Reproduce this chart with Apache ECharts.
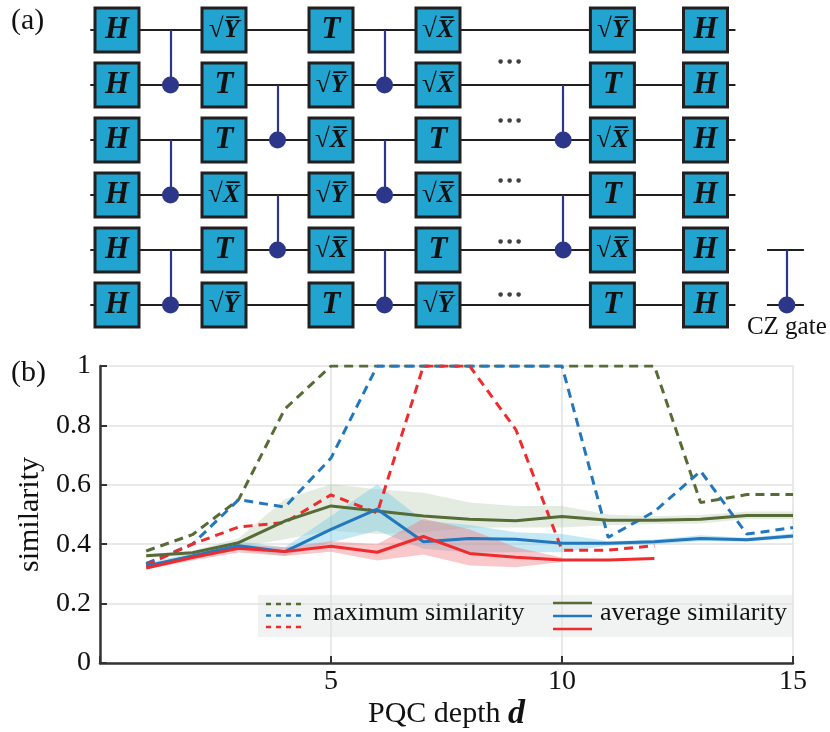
<!DOCTYPE html>
<html><head><meta charset="utf-8">
<script src="https://cdn.jsdelivr.net/npm/echarts@6/dist/echarts.min.js"></script>
<style>html,body{margin:0;padding:0;background:#fff}#c{width:830px;height:732px}</style>
</head><body><div id="c"></div>
<script>
// ---------- panel (b) data ----------
const depth = [1,2,3,4,5,6,7,8,9,10,11,12,13,14,15];
const maxGreen = [0.377,0.432,0.55,0.855,1,1,1,1,1,1,1,1,0.54,0.567,0.567];
const maxBlue  = [0.335,0.40,0.55,0.525,0.69,1,1,1,1,1,0.423,0.51,0.646,0.434,0.456];
const maxRed   = [0.33,0.40,0.458,0.473,0.566,0.505,1,1,0.786,0.38,0.38,0.395];
const avgGreen = [0.361,0.371,0.405,0.478,0.529,0.512,0.495,0.484,0.479,0.493,0.481,0.481,0.484,0.497,0.497];
const avgBlue  = [0.327,0.36,0.395,0.375,0.45,0.518,0.408,0.419,0.417,0.403,0.403,0.408,0.419,0.415,0.428];
const avgRed   = [0.32,0.355,0.386,0.375,0.393,0.373,0.426,0.369,0.356,0.347,0.347,0.352];
const greenLo = [0.355,0.362,0.39,0.417,0.445,0.434,0.44,0.455,0.456,0.456,0.464,0.468,0.47,0.485,0.485];
const greenHi = [0.367,0.378,0.42,0.551,0.602,0.585,0.573,0.54,0.529,0.529,0.50,0.494,0.498,0.51,0.51];
const blueLo  = [0.32,0.35,0.38,0.36,0.406,0.445,0.385,0.372,0.373,0.373,0.395,0.40,0.41,0.408,0.42];
const blueHi  = [0.336,0.37,0.41,0.39,0.495,0.601,0.48,0.465,0.44,0.434,0.41,0.416,0.43,0.422,0.436];
const redLo   = [0.315,0.345,0.372,0.36,0.375,0.345,0.365,0.328,0.322,0.34];
const redHi   = [0.33,0.365,0.40,0.39,0.41,0.40,0.486,0.45,0.39,0.355];
const xTicks = [5,10,15];
const yTicks = [0,0.2,0.4,0.6,0.8,1];

// ---------- panel (a) circuit ----------
const qubits = [1,2,3,4,5,6];
const gateCols = [1,2,3,4,5.63,6.5];
const gateLabels = [
  ['H','H','H','H','H','H'],
  ['√Y','T','T','√X','T','√Y'],
  ['T','√Y','√X','√Y','√X','T'],
  ['√X','√X','T','√X','T','√Y'],
  ['√Y','T','√X','T','√X','T'],
  ['H','H','H','H','H','H']
];
const wireSpan = [0.75,6.78];
const czGates = [[1.5,1,2],[1.5,3,4],[1.5,5,6],[2.5,2,3],[2.5,4,5],[3.5,1,2],[3.5,3,4],[3.5,5,6],[5.17,2,3],[5.17,4,5]];
const ellipsisX = 4.67;
const ellipsisRows = [1.58,2.65,3.73,4.84,5.8];
const czKeyX = 7.26, czKeyRows = [5,6], czKeySpan = [7.075,7.42];

const SERIF = 'Liberation Serif';
const C_G = '#576b37', C_B = '#2277bd', C_R = '#ef2b2e';

const pairs = (xs, ys) => ys.map((v,i)=>[xs[i], v]);

const gateData = [];
gateCols.forEach((x,ci)=>qubits.forEach((q,qi)=>gateData.push({name:gateLabels[ci][qi], value:[x,q]})));

function gateText(n){
  if (n[0]==='√') return '{r|√}{s|'+n[1]+'\u0305}';
  return '{g|'+n+'}';
}

const series = [];
// wires
series.push({type:'lines', coordinateSystem:'cartesian2d', xAxisIndex:0, yAxisIndex:0, z:1, silent:true,
  lineStyle:{color:'#231f20', width:2, opacity:1},
  data: qubits.map(q=>({coords:[[wireSpan[0],q],[wireSpan[1],q]]}))
    .concat(czKeyRows.map(q=>({coords:[[czKeySpan[0],q],[czKeySpan[1],q]]})))});
// CZ vertical lines
series.push({type:'lines', coordinateSystem:'cartesian2d', xAxisIndex:0, yAxisIndex:0, z:2, silent:true,
  lineStyle:{color:'#2d3789', width:2.2, opacity:1},
  data: czGates.map(c=>({coords:[[c[0],c[1]],[c[0],c[2]]]})).concat([{coords:[[czKeyX,czKeyRows[0]],[czKeyX,czKeyRows[1]]]}])});
// CZ dots
series.push({type:'scatter', xAxisIndex:0, yAxisIndex:0, z:3, silent:true, symbolSize:17,
  itemStyle:{color:'#2d3789', opacity:1},
  data: czGates.map(c=>[c[0],c[2]]).concat([{value:[czKeyX,czKeyRows[1]], label:{show:true, position:'bottom', distance:1,
    formatter:'CZ gate', fontFamily:SERIF, fontSize:25, color:'#111'}}])});
// gates
series.push({type:'scatter', xAxisIndex:0, yAxisIndex:0, z:4, silent:true, symbol:'rect', symbolSize:44,
  itemStyle:{color:'#21a4d0', borderColor:'#231f20', borderWidth:3, opacity:1},
  label:{show:true, position:'inside', formatter:p=>gateText(p.name),
    rich:{
      g:{fontFamily:SERIF, fontWeight:'bold', fontStyle:'italic', fontSize:31, color:'#111'},
      r:{fontFamily:SERIF, fontSize:27, color:'#111'},
      s:{fontFamily:SERIF, fontWeight:'bold', fontStyle:'italic', fontSize:26, color:'#111'}
    }},
  data: gateData});
// ellipses
series.push({type:'scatter', xAxisIndex:0, yAxisIndex:0, z:4, silent:true, symbolSize:2,
  itemStyle:{color:'rgba(0,0,0,0)'},
  label:{show:true, position:'inside', formatter:'●  ●  ●', fontFamily:'DejaVu Sans', fontSize:6, color:'#111'},
  data: ellipsisRows.map(r=>[ellipsisX,r])});

// bands (polygon between lower and upper bound, mapped through the axes)
function band(lo, hi, color){
  const n = lo.length;
  series.push({type:'custom', xAxisIndex:1, yAxisIndex:1, silent:true, z:1,
    data: lo.map((v,i)=>[depth[i], v, hi[i]]),
    encode:{x:0, y:[1,2]},
    renderItem:(params, api)=>{
      if (params.dataIndex !== 0) return null;
      const pts = [];
      for (let i=0;i<n;i++) pts.push(api.coord([depth[i], lo[i]]));
      for (let i=n-1;i>=0;i--) pts.push(api.coord([depth[i], hi[i]]));
      return {type:'polygon', shape:{points:pts}, style:{fill:color}};
    }});
}
band(greenLo, greenHi, 'rgba(170,195,165,0.32)');
band(blueLo, blueHi, 'rgba(110,200,228,0.40)');
band(redLo, redHi, 'rgba(240,110,115,0.38)');

function ln(data, color, dashed){
  series.push({type:'line', xAxisIndex:1, yAxisIndex:1, data:pairs(depth, data), symbol:'none', silent:true, z:dashed?3:4,
    lineStyle:{color:color, width:3, type: dashed ? [9,6] : 'solid'}});
}
ln(maxGreen, C_G, true); ln(maxBlue, C_B, true); ln(maxRed, C_R, true);
ln(avgGreen, C_G, false); ln(avgBlue, C_B, false); ln(avgRed, C_R, false);

const LX = 258, LY = 595;
const legendGraphic = {type:'group', left:LX, top:LY, z:50, children:[
  {type:'rect', shape:{x:0,y:0,width:535,height:42}, style:{fill:'#f1f3f3'}},
  ...[C_G,C_B,C_R].map((c,i)=>({type:'line', z2:2, shape:{x1:8,y1:9+i*11.5,x2:47,y2:9+i*11.5}, style:{stroke:c, lineWidth:2.5, lineDash:[5,5]}})),
  {type:'text', left:55, top:5, style:{text:'maximum similarity', font:'26px "Liberation Serif"', fill:'#111'}},
  ...[C_G,C_B,C_R].map((c,i)=>({type:'line', z2:2, shape:{x1:295,y1:8+i*13,x2:334,y2:8+i*13}, style:{stroke:c, lineWidth:2.5}})),
  {type:'text', left:342, top:5, style:{text:'average similarity', font:'26px "Liberation Serif"', fill:'#111'}}
]};

const option = {
  animation:false,
  backgroundColor:'#fff',
  grid:[
    {left:10, top:2.5, width:813.2, height:330, containLabel:false},
    {left:100, right:37, top:366, bottom:69, containLabel:false}
  ],
  xAxis:[
    {gridIndex:0, type:'value', min:0, max:7.6, show:false},
    {gridIndex:1, type:'value', min:0, max:15, interval:5,
      axisLine:{show:true, onZero:false, lineStyle:{color:'#333', width:2.5}},
      axisTick:{show:true, inside:true, length:7, lineStyle:{color:'#333', width:2}},
      axisLabel:{formatter:v=>xTicks.includes(v)?String(v):'', fontFamily:SERIF, fontSize:28, color:'#111', margin:5},
      splitLine:{show:true, lineStyle:{color:'#e2e2e2', width:1.5}},
      name:'{a|PQC depth }{b|d}', nameLocation:'middle', nameGap:26,
      nameTextStyle:{rich:{a:{fontFamily:SERIF, fontSize:30, color:'#111'}, b:{fontFamily:SERIF, fontSize:34, fontStyle:'italic', fontWeight:'bold', color:'#111'}}}}
  ],
  yAxis:[
    {gridIndex:0, type:'value', min:0.5, max:6.5, inverse:true, show:false},
    {gridIndex:1, type:'value', min:0, max:1, interval:0.2,
      axisLine:{show:true, lineStyle:{color:'#333', width:2.5}},
      axisTick:{show:true, inside:true, length:7, lineStyle:{color:'#333', width:2}},
      axisLabel:{formatter:v=>String(+v.toFixed(1)), fontFamily:SERIF, fontSize:28, color:'#111', margin:9},
      splitLine:{show:true, lineStyle:{color:'#e2e2e2', width:1.5}},
      name:'similarity', nameLocation:'middle', nameGap:47,
      nameTextStyle:{fontFamily:SERIF, fontSize:30, color:'#111'}}
  ],
  graphic:[
    {type:'text', left:11, top:6, style:{text:'(a)', font:'30px "Liberation Serif"', fill:'#111'}},
    {type:'text', left:11, top:358, style:{text:'(b)', font:'30px "Liberation Serif"', fill:'#111'}},
    legendGraphic
  ],
  series: series
};
const chart = echarts.init(document.getElementById('c'));
chart.setOption(option);
</script></body></html>
